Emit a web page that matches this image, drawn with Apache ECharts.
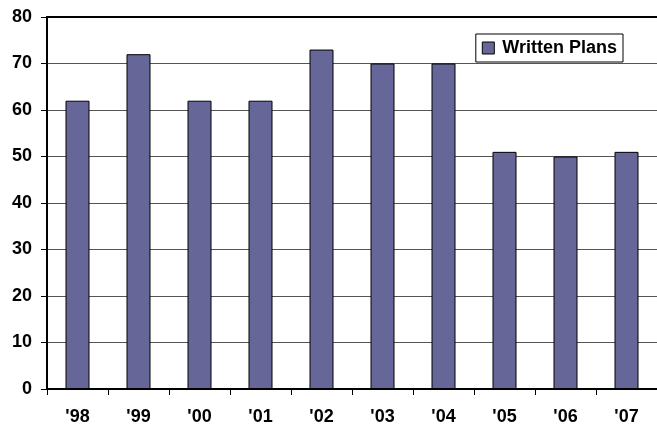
<!DOCTYPE html>
<html>
<head>
<meta charset="utf-8">
<script src="https://cdn.jsdelivr.net/npm/echarts@6/dist/echarts.min.js"></script>
<style>
  html, body { margin: 0; padding: 0; background: #fff; }
  #chart { width: 657px; height: 427px; }
</style>
</head>
<body>
<div id="chart"></div>
<script>
// Survey years and share of respondents with written plans
const years = ["'98", "'99", "'00", "'01", "'02", "'03", "'04", "'05", "'06", "'07"];
const writtenPlans = [62, 72, 62, 62, 73, 70, 70, 51, 50, 51];
const seriesName = 'Written Plans';

const chart = echarts.init(document.getElementById('chart'), null, { renderer: 'canvas' });

const labelFont = {
  fontFamily: 'Liberation Sans, Arial, sans-serif',
  fontWeight: 'bold',
  fontSize: 18,
  color: '#000'
};

chart.setOption({
  animation: false,
  backgroundColor: '#fff',
  grid: { left: 47, right: 0, top: 17, bottom: 38, containLabel: false },
  legend: {
    right: 34,
    top: 34,
    padding: [5, 6, 5, 6],
    icon: 'rect',
    itemWidth: 12,
    itemHeight: 12,
    itemGap: 5,
    borderColor: '#000',
    borderWidth: 1,
    backgroundColor: '#fff',
    textStyle: Object.assign({}, labelFont, { padding: [0, 0, 0, 3] }),
    itemStyle: { borderColor: '#000', borderWidth: 1 },
    data: [seriesName]
  },
  xAxis: [
    {
      type: 'category',
      data: years,
      position: 'bottom',
      axisLine: { lineStyle: { color: '#000', width: 2 } },
      axisTick: { show: true, length: 6, alignWithLabel: false, lineStyle: { color: '#000', width: 1 } },
      axisLabel: Object.assign({ margin: 19 }, labelFont),
      splitLine: { show: false }
    },
    {
      // top frame edge
      type: 'category',
      data: years,
      position: 'top',
      axisLine: { lineStyle: { color: '#000', width: 2 } },
      axisTick: { show: false },
      axisLabel: { show: false },
      splitLine: { show: false }
    }
  ],
  yAxis: {
    type: 'value',
    min: 0,
    max: 80,
    interval: 10,
    axisLine: { show: true, lineStyle: { color: '#000', width: 2 } },
    axisTick: { show: true, length: 6, lineStyle: { color: '#000', width: 1 } },
    axisLabel: Object.assign({ margin: 15 }, labelFont),
    splitLine: { show: true, lineStyle: { color: '#555', width: 1 } }
  },
  series: [
    {
      name: seriesName,
      type: 'bar',
      data: writtenPlans,
      barWidth: 24,
      itemStyle: { color: '#666699', borderColor: '#000', borderWidth: 1 }
    }
  ]
});
</script>
</body>
</html>
